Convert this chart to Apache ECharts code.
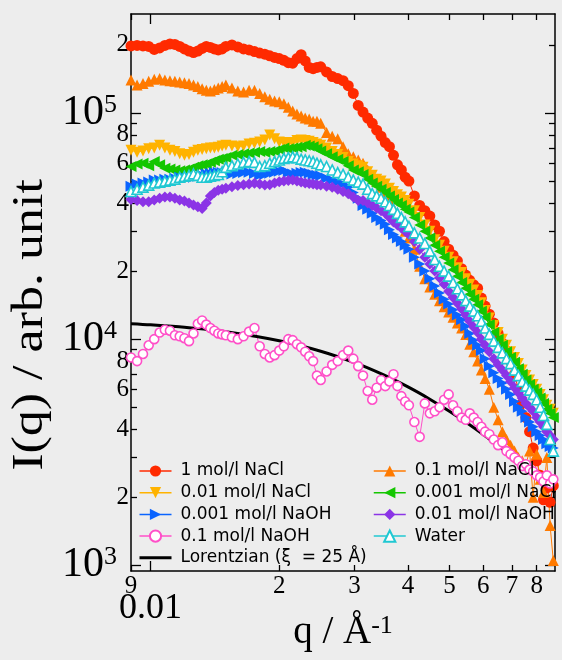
<!DOCTYPE html>
<html>
<head>
<meta charset="utf-8">
<script src="https://cdn.jsdelivr.net/npm/echarts@6/dist/echarts.min.js"></script>
<style>
  html, body { margin: 0; padding: 0; background: #ededed; }
  #chart { width: 562px; height: 660px; }
</style>
</head>
<body>
<div id="chart"></div>
<script>
// Scattering vector q (1/Å), shared by all measured curves
const q = [
  0.0090, 0.0093, 0.0096, 0.0099, 0.0102, 0.0105, 0.0108, 0.0111, 0.0114, 0.0117, 0.0120,
  0.0123, 0.0126, 0.0129, 0.0132, 0.0135, 0.0138, 0.0141, 0.0144, 0.0147, 0.0150,
  0.0155, 0.0160, 0.0165, 0.0170, 0.0175, 0.0180, 0.0185, 0.0190, 0.0195, 0.0200,
  0.0205, 0.0210, 0.0215, 0.0220, 0.0225, 0.0230, 0.0235, 0.0240, 0.0245, 0.0250,
  0.0258, 0.0266, 0.0274, 0.0282, 0.0290, 0.0298, 0.0306, 0.0314, 0.0322, 0.0330,
  0.0338, 0.0346, 0.0354, 0.0362, 0.0370, 0.0378, 0.0386, 0.0394, 0.0402,
  0.0414, 0.0426, 0.0438, 0.0450, 0.0462, 0.0474, 0.0486, 0.0498, 0.0510, 0.0522,
  0.0534, 0.0546, 0.0558, 0.0570, 0.0582, 0.0594, 0.0606,
  0.0620, 0.0635, 0.0650, 0.0665, 0.0680, 0.0695, 0.0710, 0.0725, 0.0740, 0.0755,
  0.0770, 0.0785, 0.0800, 0.0815, 0.0830, 0.0845, 0.0860, 0.0875
];

// Intensities I(q), arbitrary units
const nacl1 = [
  198000, 199000, 198000, 197000, 191000, 194000, 199000, 202000, 201000, 197000, 192000,
  188000, 185000, 188000, 193000, 197000, 195000, 192000, 190000, 192000, 197000,
  200000, 196000, 192000, 190000, 187000, 184000, 182000, 179000, 176000, 174000,
  171000, 167000, 166000, 174000, 181000, 170000, 159000, 157000, 159000, 160000,
  152000, 145000, 142000, 139000, 132000, 122000, 108000, 101000, 95000, 90000,
  84000, 79000, 74000, 71000, 65000, 59000, 56000, 52000, 50000,
  43000, 39000, 37000, 35000, 32000, 30000, 27000, 25000, 23500, 22200,
  20500, 19200, 18200, 17400, 16800, 15200, 14000,
  12900, 11800, 10600, 9600, 8900, 8000, 7000, 6000, 5200, 4500,
  3900, 3300, 2900, 2500, 1950, 2200, 1900, 2250
];
const nacl01 = [
  140000, 133000, 135000, 138000, 141000, 142000, 140000, 139000, 138000, 137000, 136000,
  135000, 133000, 131000, 128000, 126000, 125000, 127000, 129000, 131000, 133000,
  129000, 125000, 124000, 126000, 126000, 122000, 118000, 115000, 113000, 112000,
  110000, 106000, 102000, 99000, 97000, 95000, 94000, 92000, 92000, 90000,
  82000, 79000, 77000, 71000, 66000, 64000, 62000, 60000, 56000, 53000,
  50000, 47000, 44000, 41000, 38000, 35000, 32500, 30000, 28000,
  25000, 21000, 18500, 17000, 15800, 14800, 13900, 13200, 12500, 11800,
  11200, 10500, 9500, 8800, 8000, 7300, 6700,
  6000, 5000, 4400, 3900, 3600, 3400, 3200, 3000, 2900, 2800,
  3200, 2000, 3100, 2400, 2100, 3000, 1500, 1050
];
const nacl001 = [
  68500, 67000, 68000, 69500, 70000, 72000, 70000, 68500, 67500, 66000, 65000,
  65500, 67000, 68500, 69000, 69500, 70000, 70000, 70500, 71500, 72000,
  71500, 71000, 71500, 73000, 73500, 74500, 76000, 80000, 77000, 74500,
  74000, 73500, 74000, 75500, 76000, 75500, 75000, 74000, 73000, 72000,
  70000, 67500, 65500, 63500, 61000, 59500, 58500, 57500, 55000, 53000,
  51000, 50000, 48500, 46500, 45000, 43500, 42500, 41000, 39500,
  37000, 34500, 32000, 30000, 27500, 26000, 24500, 23000, 22000, 20700,
  19700, 18500, 17500, 16500, 15600, 14500, 13400,
  12400, 11500, 10700, 10000, 9400, 8800, 8300, 7800, 7300, 6900,
  6600, 6300, 6000, 5700, 5400, 5100, 4900, 4700
];
const nacl0001 = [
  58000, 59500, 60000, 58500, 61000, 59000, 57000, 56500, 56000, 55500, 56000,
  56500, 57500, 58500, 59000, 59500, 60500, 61500, 62500, 63000, 63500,
  65000, 65500, 66000, 66500, 67000, 67500, 67000, 67500, 68000, 69000,
  70000, 69500, 70000, 70500, 71000, 72000, 71500, 71000, 69500, 68000,
  66000, 64000, 62500, 61000, 58500, 56000, 55000, 53500, 51000, 49000,
  47500, 46000, 44500, 43000, 41500, 40000, 39000, 37500, 36500,
  34500, 32000, 30000, 28000, 26000, 24500, 23000, 21700, 20300, 19000,
  17800, 16800, 15800, 15000, 14200, 13300, 12500,
  11600, 10700, 10000, 9400, 8800, 8300, 7900, 7400, 7000, 6600,
  6300, 6000, 5800, 5500, 5200, 4900, 4700, 4500
];
const naoh0001 = [
  47500, 48500, 49000, 49500, 50500, 50500, 51000, 51000, 51500, 52000, 52000,
  52000, 52000, 52500, 53000, 53800, 54000, 54500, 54700, 54500, 54000,
  53800, 54000, 54500, 54700, 54000, 53000, 53500, 54200, 54700, 55200,
  55700, 54500, 53800, 54200, 54500, 54700, 54200, 53500, 53000, 52800,
  51500, 50500, 49500, 48500, 47000, 44500, 42000, 39000, 37500, 36000,
  34500, 33500, 32200, 30500, 29000, 28000, 27000, 26000, 25000,
  23000, 21500, 20000, 18500, 17200, 16000, 15000, 14300, 13500, 12800,
  12200, 11400, 10600, 9900, 9400, 8900, 8200,
  7600, 7100, 6700, 6400, 6000, 5700, 5300, 5000, 4800, 4500,
  4300, 4100, 3900, 3750, 3600, 3450, 3350, 3300
];
const naoh001 = [
  41500, 41000, 40500, 40500, 41200, 42000, 42500, 42500, 42000, 41200, 40800,
  40000, 39200, 38500, 37800, 40000, 43000, 44500, 45500, 46000, 46500,
  47200, 47800, 48200, 48600, 48900, 48500, 48000, 48200, 49000, 49700,
  50000, 50300, 50500, 50000, 49500, 49000, 48800, 48500, 48200, 48000,
  47500, 47000, 46000, 45000, 44000, 42500, 41000, 41000, 40000, 39000,
  38000, 37000, 36000, 34500, 33000, 32000, 31000, 30000, 29000,
  27000, 25000, 23000, 21500, 20000, 18700, 17500, 16300, 15300, 14400,
  13600, 12800, 12000, 11300, 10700, 10000, 9400,
  8800, 8200, 7700, 7300, 6900, 6500, 6100, 5800, 5500, 5200,
  5000, 4800, 4500, 4300, 4100, 3900, 3750, 3600
];
const naoh01 = [
  8300, 8000, 8600, 9400, 10000, 10700, 11000, 10900, 10400, 10300, 10100,
  9800, 10600, 11700, 12100, 11600, 11200, 10900, 10600, 10500, 10400,
  10200, 10000, 10300, 10800, 11200, 9300, 8600, 8300, 8500, 8900,
  9300, 10000, 9900, 9500, 9200, 8800, 8400, 8000, 6900, 6600,
  7200, 7700, 8000, 8500, 8900, 8200, 7600, 6900, 5900, 5400,
  6100, 6600, 6200, 6500, 7000, 6200, 5600, 5300, 5100,
  4300, 3700, 5200, 4700, 4800, 5000, 5400, 5700, 5100, 4800,
  4500, 4400, 4700, 4500, 4300, 4100, 3900,
  3800, 3600, 3400, 3500, 3200, 3100, 3000, 2900, 2750, 2800,
  2650, 2600, 2500, 2450, 2350, 2500, 2300, 2400
];
const water = [
  45000, 46000, 47000, 48000, 49000, 49500, 50000, 50500, 51000, 52000, 52500,
  53000, 53800, 53000, 52000, 52000, 52500, 53000, 53500, 55000, 57500,
  58500, 59500, 60500, 61000, 60500, 58000, 58500, 60000, 61000, 62000,
  63000, 63500, 64000, 63500, 62500, 62000, 61500, 61000, 60000, 59000,
  58000, 56000, 54500, 53500, 52000, 50500, 49500, 48500, 46000, 44000,
  43000, 42000, 40500, 39000, 37500, 36000, 34500, 33000, 31500,
  29500, 28000, 26500, 24500, 22500, 21000, 20000, 19000, 17800, 16700,
  15700, 14800, 14000, 13300, 12700, 12000, 11200,
  10500, 9800, 9200, 8700, 8200, 7800, 7300, 6900, 6500, 6200,
  5950, 5700, 5400, 5000, 4600, 4200, 3600, 3200
];

// Lorentzian fit curve, correlation length 25 Å
const lorQ = [0.009, 0.010, 0.012, 0.015, 0.020, 0.025, 0.030, 0.035, 0.040, 0.045,
              0.050, 0.055, 0.060, 0.065, 0.070, 0.075, 0.080, 0.085, 0.0883];
const lorI = [11707, 11576, 11284, 10784, 9840, 8845, 7872, 6966, 6150, 5429,
              4800, 4255, 3785, 3378, 3028, 2724, 2460, 2230, 2094];

// Tick positions and labels
const xMajorTicks = [0.01];
const xMajorLabels = ['0.01'];
const xMinorTicks = [0.009, 0.02, 0.03, 0.04, 0.05, 0.06, 0.07, 0.08];
const xMinorLabels = ['9', '2', '3', '4', '5', '6', '7', '8'];
const yMajorTicks = [1e3, 1e4, 1e5];
const yMinorTicks = [2e3, 3e3, 4e3, 5e3, 6e3, 7e3, 8e3, 9e3,
                     2e4, 3e4, 4e4, 5e4, 6e4, 7e4, 8e4, 9e4, 2e5];
const yMinorLabeled = [2e3, 4e3, 6e3, 8e3, 2e4, 4e4, 6e4, 8e4, 2e5];

const lg = Math.log10;
const SERIF = 'Liberation Serif';
const SANS = 'DejaVu Sans';

// Both axes run in decades: positions are log10 of the physical values
const X_MIN = lg(0.009), X_MAX = lg(0.0883);
const Y_MIN = lg(944), Y_MAX = lg(2.74e5);

function mantissa(v) {
  const p = Math.floor(v + 1e-9);
  return String(Math.round(Math.pow(10, v - p)));
}
function labelFor(v, ticks, labels) {
  let best = 0, d = Infinity;
  ticks.forEach((t, i) => { const e = Math.abs(lg(t) - v); if (e < d) { d = e; best = i; } });
  return labels[best];
}

function xAxisDef(position, ticks, len, withLine, label) {
  return {
    type: 'value', min: X_MIN, max: X_MAX, position: position,
    axisLine: { show: withLine, onZero: false, lineStyle: { color: '#000', width: 1.5 } },
    axisTick: { show: true, inside: true, length: len, customValues: ticks.map(lg),
                lineStyle: { color: '#000', width: 1.3 } },
    axisLabel: label ? label : { show: false },
    splitLine: { show: false }
  };
}
function yAxisDef(position, ticks, len, withLine, label) {
  return {
    type: 'value', min: Y_MIN, max: Y_MAX, position: position,
    axisLine: { show: withLine, onZero: false, lineStyle: { color: '#000', width: 1.5 } },
    axisTick: { show: true, inside: true, length: len, customValues: ticks.map(lg),
                lineStyle: { color: '#000', width: 1.3 } },
    axisLabel: label ? label : { show: false },
    splitLine: { show: false }
  };
}

const toXY = (xs, ys) => xs.map((v, i) => [lg(v), lg(ys[i])]);

function measured(name, values, color, symbol, size, open) {
  return {
    name: name, type: 'line', xAxisIndex: 0, yAxisIndex: 0,
    data: toXY(q, values),
    symbol: symbol, symbolSize: size, showSymbol: true, showAllSymbol: true,
    lineStyle: { color: color, width: 1 },
    itemStyle: open ? { color: '#ffffff', borderColor: color, borderWidth: 1.6 }
                    : { color: color, borderWidth: 0 },
    emphasis: { disabled: true },
    clip: true
  };
}

const TRI_UP = 'path://M5,0L10,9L0,9Z';
const TRI_DOWN = 'path://M0,0L10,0L5,9Z';
const TRI_RIGHT = 'path://M0,0L9,5L0,10Z';
const TRI_LEFT = 'path://M9,0L0,5L9,10Z';

const C = {
  red: '#ff2a00', orange: '#ff7a00', yellow: '#ffb300', green: '#14c600',
  blue: '#0a64ff', purple: '#8b34e6', pink: '#ff4fc8', cyan: '#20c8d2'
};

const NAMES = {
  nacl1: '1 mol/l NaCl', nacl01: '0.1 mol/l NaCl', nacl001: '0.01 mol/l NaCl',
  nacl0001: '0.001 mol/l NaCl', naoh0001: '0.001 mol/l NaOH', naoh001: '0.01 mol/l NaOH',
  naoh01: '0.1 mol/l NaOH', water: 'Water', lor: 'Lorentzian (ξ  = 25 Å)'
};

const legendBase = {
  orient: 'vertical', itemWidth: 32, itemHeight: 14, itemGap: 1.7,
  selectedMode: false, padding: 0,
  textStyle: { fontFamily: SANS, fontSize: 17, color: '#000', lineHeight: 20, padding: [0, 0, 0, 4] },
  lineStyle: { width: 1.5 }
};

const chart = echarts.init(document.getElementById('chart'), null, { renderer: 'canvas' });

chart.setOption({
  animation: false,
  backgroundColor: 'transparent',
  grid: { left: 131, right: 7, top: 14, bottom: 89, containLabel: false, outerBoundsMode: 'none' },
  xAxis: [
    Object.assign(xAxisDef('bottom', xMajorTicks, 10, true, {
      show: true, customValues: xMajorTicks.map(lg), margin: 20,
      formatter: v => labelFor(v, xMajorTicks, xMajorLabels),
      fontFamily: SERIF, fontSize: 36, color: '#000'
    }), {
      name: '{a|q / Å}{s|-1}', nameLocation: 'middle', nameGap: 42, nameMoveOverlap: false,
      nameTextStyle: {
        rich: {
          a: { fontFamily: SERIF, fontSize: 39, color: '#000', lineHeight: 40 },
          s: { fontFamily: SERIF, fontSize: 26, color: '#000', lineHeight: 26, verticalAlign: 'top' }
        }
      }
    }),
    xAxisDef('bottom', xMinorTicks, 6, false, {
      show: true, customValues: xMinorTicks.map(lg), margin: 3,
      formatter: v => labelFor(v, xMinorTicks, xMinorLabels),
      fontFamily: SERIF, fontSize: 25, color: '#000', alignMinLabel: 'center'
    }),
    xAxisDef('top', xMajorTicks, 10, true, null),
    xAxisDef('top', xMinorTicks, 6, false, null)
  ],
  yAxis: [
    yAxisDef('left', yMajorTicks, 10, true, {
      show: true, customValues: yMajorTicks.map(lg), margin: 14,
      formatter: v => '{b|10}{s|' + Math.round(v) + '}',
      rich: {
        b: { fontFamily: SERIF, fontSize: 42, color: '#000', lineHeight: 42 },
        s: { fontFamily: SERIF, fontSize: 26, color: '#000', lineHeight: 26, verticalAlign: 'top' }
      }
    }),
    yAxisDef('left', yMinorTicks, 6, false, {
      show: true, customValues: yMinorLabeled.map(lg), margin: 2,
      formatter: v => mantissa(v),
      fontFamily: SERIF, fontSize: 25, color: '#000'
    }),
    yAxisDef('right', yMajorTicks, 10, true, null),
    yAxisDef('right', yMinorTicks, 6, false, null)
  ],
  legend: [
    Object.assign({}, legendBase, {
      left: 138, top: 461,
      data: [NAMES.nacl1, NAMES.nacl001, NAMES.naoh0001, NAMES.naoh01,
             { name: NAMES.lor, itemStyle: { color: 'rgba(0,0,0,0)', borderWidth: 0, opacity: 0 },
               lineStyle: { width: 3, color: '#000' } }]
    }),
    Object.assign({}, legendBase, {
      left: 373, top: 461,
      data: [NAMES.nacl01, NAMES.nacl0001, NAMES.naoh001, NAMES.water]
    })
  ],
  graphic: [{
    type: 'text', x: 30, y: 325, rotation: Math.PI / 2, scaleY: 0.85, silent: true,
    style: { text: 'I(q) / arb. unit', font: '52px "Liberation Serif"', fill: '#000',
             align: 'center', verticalAlign: 'middle' }
  }],
  series: [
    measured(NAMES.nacl1, nacl1, C.red, 'circle', 11, false),
    measured(NAMES.nacl01, nacl01, C.orange, TRI_UP, 11, false),
    measured(NAMES.nacl001, nacl001, C.yellow, TRI_DOWN, 11, false),
    measured(NAMES.nacl0001, nacl0001, C.green, TRI_LEFT, 11, false),
    measured(NAMES.naoh0001, naoh0001, C.blue, TRI_RIGHT, 11, false),
    measured(NAMES.naoh001, naoh001, C.purple, 'diamond', 11, false),
    measured(NAMES.naoh01, naoh01, C.pink, 'circle', 9, true),
    measured(NAMES.water, water, C.cyan, TRI_UP, 10, true),
    {
      name: NAMES.lor, type: 'line', xAxisIndex: 0, yAxisIndex: 0,
      data: toXY(lorQ, lorI), smooth: 0.3, symbol: 'none',
      lineStyle: { color: '#000', width: 3 }, itemStyle: { color: '#000' },
      emphasis: { disabled: true }, clip: true
    }
  ]
});
</script>
</body>
</html>
